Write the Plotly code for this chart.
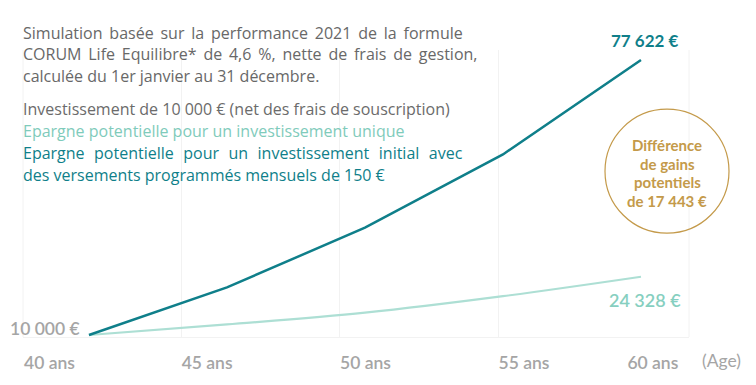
import plotly.graph_objects as go

# ---- data ----
ages = [40, 45, 50, 55, 60]
epargne_unique = [10000, 12600, 15500, 19550, 24328]
epargne_versements = [10000, 21700, 36400, 54400, 77622]
tick_labels = ["40 ans", "45 ans", "50 ans", "55 ans", "60 ans"]
label_start = "10 000 €"
label_unique = "24 328 €"
label_vers = "77 622 €"
circle_lines = ["Différence", "de gains", "potentiels", "de 17 443 €"]
intro_lines = [
    "Simulation basée sur la performance 2021 de la formule",
    "CORUM Life Equilibre* de 4,6 %, nette de frais de gestion,",
    "calculée du 1er janvier au 31 décembre.",
]
legend_lines = [
    ("Investissement de 10 000 € (net des frais de souscription)", "#6b6b6b"),
    ("Epargne potentielle pour un investissement unique", "#7fcbbb"),
    ("Epargne potentielle pour un investissement initial avec", "#0f7f8a"),
    ("des versements programmés mensuels de 150 €", "#0f7f8a"),
]
# extra thin spaces per word gap to mimic the justified paragraph
intro_pad = [1, 1, 0]
legend_pad = [0, 0, 2, 0]

OFF = 8  # page body margin
W, H = 756 - OFF, 385 - OFF
L, R, T, B = 15, 67, 42, 46
PW, PH = W - L - R, H - T - B

def px(xr):
    return (xr - OFF - L) / PW

def py(yr):
    return (H - B - (yr - OFF)) / PH

def justify(t, n):
    return t.replace(" ", " " + "\u2009" * n) if n else t

DARK = "#0f7f8a"
LIGHT = "#addfd4"
LIGHT_TXT = "#86cfc0"
GOLD = "#c49a4a"
GRAY = "#a5a5a5"
TXT = "#686868"
FONT = "Lato"
BODY = "Open Sans"

fig = go.Figure()
fig.add_trace(go.Scatter(x=ages, y=epargne_unique, mode="lines",
                         line=dict(color=LIGHT, width=2.2, shape="spline"),
                         hoverinfo="skip"))
fig.add_trace(go.Scatter(x=ages, y=epargne_versements, mode="lines",
                         line=dict(color=DARK, width=2.5),
                         hoverinfo="skip"))

# tick label positions (label centres, in age units)
tick_pos = [38.57, 44.28, 50.02, 55.76, 60.43]

fig.update_layout(
    width=W, height=H, margin=dict(l=L, r=R, t=T, b=B),
    paper_bgcolor="white", plot_bgcolor="white", showlegend=False,
    font=dict(family=FONT, color=TXT),
    xaxis=dict(range=[37.61, 61.74], tickvals=tick_pos, ticktext=tick_labels,
               showgrid=False, zeroline=False, showline=True, linecolor="#f2f2f2",
               linewidth=1, ticks="", ticklabelstandoff=10,
               tickfont=dict(family=FONT, size=17.5, color=GRAY, weight=600)),
    xaxis2=dict(range=[40, 61.01], overlaying="x", anchor="y", tickvals=[45, 50, 55],
                showticklabels=False, showgrid=True, gridcolor="#f2f2f2", gridwidth=1,
                zeroline=False, showline=False, ticks=""),
    yaxis=dict(range=[9512, 80068], showgrid=False, zeroline=False,
               showticklabels=False, ticks="", showline=False),
)
# invisible trace so that xaxis2 grid is drawn
fig.add_trace(go.Scatter(x=[40], y=[9512], xaxis="x2", mode="markers",
                         marker=dict(opacity=0), hoverinfo="skip"))

shapes = []
for xx in (0, 1):
    shapes.append(dict(type="line", xref="paper", yref="paper", x0=xx, x1=xx, y0=0, y1=1,
                       line=dict(color="#f2f2f2", width=1), layer="below"))
shapes.append(dict(type="circle", xref="paper", yref="paper", xsizemode="pixel",
                   ysizemode="pixel", xanchor=px(667), yanchor=py(172),
                   x0=-62, x1=62, y0=-62, y1=62, line=dict(color=GOLD, width=1.2)))
fig.update_layout(shapes=shapes)

ann = []
for i, t in enumerate(intro_lines):
    ann.append(dict(text=justify(t, intro_pad[i]), xref="paper", yref="paper",
                    x=px(21), y=py(33 + i * 21.5),
                    xanchor="left", yanchor="middle", showarrow=False,
                    font=dict(family=BODY, size=16, color=TXT)))
for i, (t, c) in enumerate(legend_lines):
    ann.append(dict(text=justify(t, legend_pad[i]), xref="paper", yref="paper",
                    x=px(21), y=py(109 + i * 22.3),
                    xanchor="left", yanchor="middle", showarrow=False,
                    font=dict(family=BODY, size=16, color=c)))
for i, t in enumerate(circle_lines):
    ann.append(dict(text=t, xref="paper", yref="paper", x=px(667), y=py(146 + i * 18.7),
                    xanchor="center", yanchor="middle", showarrow=False,
                    font=dict(family=FONT, size=15, color=GOLD, weight="bold")))
ann.append(dict(text=label_vers, x=ages[-1], y=epargne_versements[-1], xanchor="center",
                yanchor="middle", yshift=19, xshift=4, showarrow=False,
                font=dict(family=FONT, size=17, color=DARK, weight="bold")))
ann.append(dict(text=label_unique, x=ages[-1], y=epargne_unique[-1], xanchor="right",
                yanchor="middle", yshift=-23, xshift=42, showarrow=False,
                font=dict(family=FONT, size=18, color=LIGHT_TXT, weight=600)))
ann.append(dict(text=label_start, x=ages[0], y=epargne_unique[0], xanchor="right",
                yanchor="middle", yshift=7, xshift=-7, showarrow=False,
                font=dict(family=FONT, size=17.5, color=GRAY, weight=600)))
ann.append(dict(text="(Age)", xref="paper", yref="paper", x=px(700), y=py(363),
                xanchor="left", yanchor="middle", showarrow=False,
                font=dict(family=FONT, size=17.5, color=GRAY)))
fig.update_layout(annotations=ann)

fig.write_html("out.html")
